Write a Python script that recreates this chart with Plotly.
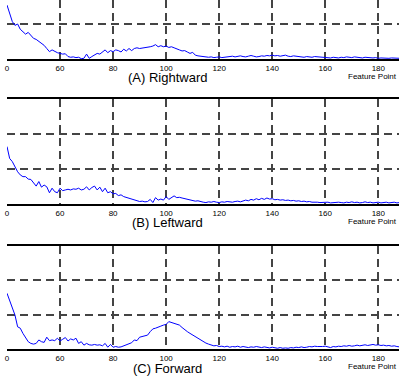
import plotly.graph_objects as go

feature_points = list(range(40, 189))

rightward = [1.54,1.29,1.07,0.96,1.00,0.85,0.78,0.71,0.76,0.66,
             0.59,0.56,0.50,0.45,0.39,0.30,0.21,0.26,0.21,0.18,
             0.16,0.14,0.15,0.07,0.05,0.06,0.04,0.05,0.01,0.02,
             0.14,0.02,0.07,0.11,0.16,0.14,0.19,0.26,0.18,0.24,
             0.21,0.26,0.24,0.20,0.28,0.23,0.30,0.24,0.30,0.32,
             0.30,0.31,0.33,0.32,0.35,0.37,0.41,0.35,0.38,0.35,
             0.37,0.33,0.35,0.32,0.30,0.26,0.23,0.24,0.20,0.16,
             0.19,0.11,0.09,0.08,0.06,0.07,0.05,0.06,0.04,0.05,
             0.06,0.04,0.05,0.07,0.06,0.08,0.06,0.07,0.09,0.07,
             0.06,0.08,0.10,0.08,0.06,0.07,0.09,0.08,0.10,0.09,
             0.11,0.09,0.10,0.08,0.09,0.11,0.08,0.07,0.09,0.08,
             0.06,0.07,0.05,0.07,0.06,0.05,0.07,0.06,0.05,0.04,
             0.05,0.04,0.03,0.05,0.04,0.03,0.05,0.04,0.06,0.05,
             0.04,0.06,0.05,0.04,0.03,0.05,0.04,0.05,0.03,0.04,
             0.02,0.03,0.02,0.03,0.02,0.03,0.02,0.03,0.02]

leftward = [1.65,1.31,1.22,1.08,0.93,0.84,0.79,0.79,0.72,0.71,
            0.60,0.52,0.65,0.49,0.55,0.50,0.33,0.46,0.36,0.33,
            0.46,0.39,0.41,0.43,0.41,0.44,0.43,0.46,0.41,0.43,
            0.50,0.41,0.48,0.52,0.41,0.49,0.36,0.46,0.33,0.36,
            0.30,0.31,0.25,0.27,0.22,0.20,0.18,0.15,0.12,0.10,
            0.08,0.09,0.07,0.08,0.14,0.05,0.19,0.12,0.15,0.12,
            0.22,0.14,0.20,0.24,0.19,0.20,0.18,0.16,0.15,0.12,
            0.10,0.09,0.10,0.07,0.06,0.05,0.07,0.06,0.08,0.06,
            0.05,0.07,0.06,0.08,0.07,0.06,0.08,0.09,0.07,0.10,
            0.12,0.10,0.14,0.12,0.16,0.13,0.17,0.14,0.18,0.15,
            0.16,0.13,0.14,0.12,0.13,0.11,0.12,0.10,0.11,0.09,
            0.10,0.08,0.09,0.07,0.08,0.06,0.07,0.06,0.05,0.06,
            0.05,0.06,0.04,0.05,0.04,0.06,0.05,0.04,0.06,0.05,
            0.07,0.05,0.06,0.04,0.05,0.07,0.05,0.06,0.04,0.05,
            0.06,0.04,0.05,0.06,0.04,0.05,0.06,0.04,0.05]

forward = [1.62,1.42,1.18,0.99,0.65,0.61,0.46,0.35,0.22,0.17,
           0.15,0.17,0.27,0.22,0.20,0.35,0.25,0.27,0.25,0.32,
           0.24,0.29,0.34,0.24,0.30,0.27,0.32,0.17,0.22,0.12,
           0.17,0.13,0.12,0.14,0.12,0.13,0.10,0.17,0.06,0.14,
           0.06,0.08,0.06,0.07,0.10,0.11,0.14,0.19,0.27,0.25,
           0.35,0.37,0.38,0.41,0.51,0.59,0.61,0.65,0.67,0.70,
           0.72,0.80,0.78,0.75,0.73,0.70,0.63,0.56,0.51,0.46,
           0.41,0.37,0.32,0.27,0.22,0.18,0.15,0.12,0.10,0.11,
           0.08,0.09,0.07,0.09,0.06,0.08,0.07,0.09,0.06,0.08,
           0.07,0.05,0.07,0.06,0.08,0.06,0.05,0.07,0.05,0.04,
           0.06,0.04,0.03,0.05,0.03,0.04,0.03,0.05,0.04,0.06,
           0.05,0.07,0.05,0.06,0.08,0.07,0.09,0.08,0.07,0.08,
           0.09,0.07,0.05,0.08,0.07,0.09,0.08,0.10,0.09,0.11,
           0.09,0.10,0.12,0.10,0.11,0.13,0.11,0.12,0.14,0.12,
           0.13,0.11,0.12,0.10,0.11,0.09,0.10,0.08,0.07]

tick_values = [40, 60, 80, 100, 120, 140, 160, 180]
tick_labels = ["0", "60", "80", "100", "120", "140", "160", "180"]
panel_titles = ["(A) Rightward", "(B) Leftward", "(C) Forward"]
x_label = "Feature Point"

W, H = 399, 376
L = 7
def py(p):
    return 1 - p / H

series = [rightward, leftward, forward]
panels = [(0, 59, [0, 59/35]), (99.3, 204.3, [0, 3]), (245.5, 349.3, [0, 3])]
title_y = [78, 222, 368]
label_y = [76.5, 221.5, 366.5]

fig = go.Figure()
font = "Arial, Liberation Sans, sans-serif"
grid = dict(showgrid=True, gridcolor="#444444", gridwidth=1.5, griddash="8px,5px")

for i, (vals, (top, bot, yr)) in enumerate(zip(series, panels)):
    n = "" if i == 0 else str(i + 1)
    fig.add_trace(go.Scatter(x=feature_points, y=vals, mode="lines",
                             line=dict(color="#0000ff", width=1),
                             xaxis="x" + n, yaxis="y" + n, showlegend=False))
    fig.layout["xaxis" + n] = dict(domain=[0, 1], anchor="y" + n, range=[40, 187.8],
                                    tickvals=tick_values, ticktext=tick_labels,
                                    tickfont=dict(family=font, size=8, color="#000"),
                                    ticks="", showline=True, linecolor="#000", linewidth=2,
                                    mirror=(i > 0), zeroline=False, **grid)
    fig.layout["yaxis" + n] = dict(domain=[py(bot), py(top)], anchor="x" + n, range=yr,
                                    tickvals=[1, 2], showticklabels=False, ticks="",
                                    showline=False, zeroline=False, **grid)
    fig.add_annotation(text=panel_titles[i], xref="paper", yref="paper",
                       x=(167 - L) / (W - L), y=py(title_y[i]), xanchor="center", yanchor="middle",
                       showarrow=False, font=dict(family=font, size=13, color="#000"))
    fig.add_annotation(text=x_label, xref="paper", yref="paper",
                       x=1.0, y=py(label_y[i]), xanchor="right", yanchor="middle",
                       showarrow=False, font=dict(family=font, size=8, color="#000"))

fig.update_layout(width=W, height=H, margin=dict(l=L, r=0, t=0, b=0),
                  paper_bgcolor="white", plot_bgcolor="white")
fig.write_html("out.html")
